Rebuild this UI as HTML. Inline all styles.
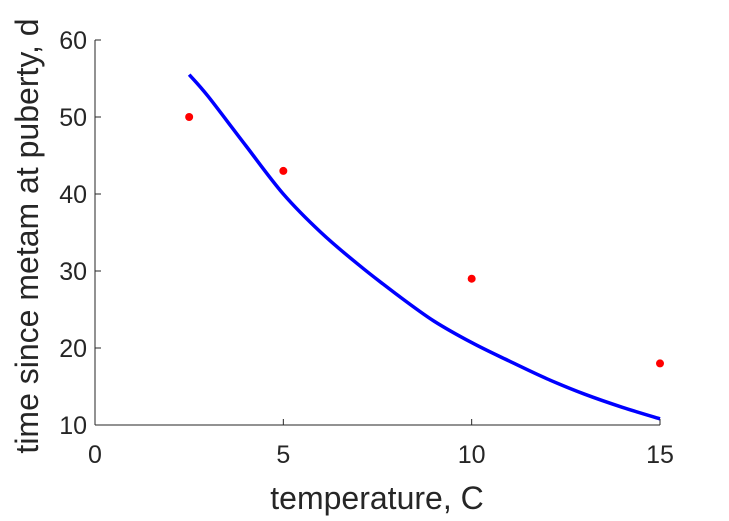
<!DOCTYPE html>
<html><head><meta charset="utf-8"><style>
html,body{margin:0;padding:0;background:#fff;width:729px;height:521px;overflow:hidden}
svg text{font-family:"Liberation Sans",sans-serif;fill:#262626}
</style></head><body>
<svg id="chart" width="729" height="521" xmlns="http://www.w3.org/2000/svg">
<g id="axes"></g>
<path id="curve" fill="none" stroke="#0000ff" stroke-width="3.5"/>
<g id="pts"></g>
<text x="377" y="509" font-size="32" text-anchor="middle">temperature, C</text>
<text transform="translate(38,236) rotate(-90)" font-size="32" text-anchor="middle">time since metam at puberty, d</text>
</svg>
<script>
const xTicks=[0,5,10,15];
const yTicks=[10,20,30,40,50,60];
const curveT=[2.5,3,4,5,6,7,8,9,10,11,12,13,14,15];
const curveY=[55.5,52.7,46.3,40.0,35.0,30.8,27.0,23.5,20.7,18.3,16.0,14.0,12.3,10.8];
const ptT=[2.5,5,10,15];
const ptY=[50,43,29,18];
const X0=95,X1=660,Y0=425,Y1=40;
const sx=v=>X0+(v-0)/(15-0)*(X1-X0);
const sy=v=>Y0-(v-10)/(60-10)*(Y0-Y1);
const NS="http://www.w3.org/2000/svg";
const ax=document.getElementById('axes');
function mk(t,a,p){const e=document.createElementNS(NS,t);for(const k in a)e.setAttribute(k,a[k]);(p||ax).appendChild(e);return e;}
let l=mk('line',{x1:X0,y1:Y0,x2:X1,y2:Y0,stroke:'#262626','stroke-width':1});


l=mk('line',{x1:X0,y1:Y0,x2:X0,y2:Y1,stroke:'#262626','stroke-width':1});


xTicks.forEach(v=>{
 const t=mk('line',{x1:sx(v),y1:Y0,x2:sx(v),y2:Y0-6,stroke:'#262626'});
 
 
 const tx=mk('text',{x:sx(v),y:Y0+38,'font-size':25,'text-anchor':'middle'});tx.textContent=v;
 
 
});
yTicks.forEach(v=>{
 const t=mk('line',{x1:X0,y1:sy(v),x2:X0+6,y2:sy(v),stroke:'#262626'});
 
 
 const tx=mk('text',{x:X0-8,y:sy(v)+9,'font-size':25,'text-anchor':'end'});tx.textContent=v;
 
 
});
const P=curveT.map((t,i)=>[sx(t),sy(curveY[i])]);
let d='M'+P[0][0].toFixed(1)+','+P[0][1].toFixed(1);
for(let i=0;i<P.length-1;i++){
 const p0=P[Math.max(0,i-1)],p1=P[i],p2=P[i+1],p3=P[Math.min(P.length-1,i+2)];
 const c1=[p1[0]+(p2[0]-p0[0])/6,p1[1]+(p2[1]-p0[1])/6];
 const c2=[p2[0]-(p3[0]-p1[0])/6,p2[1]-(p3[1]-p1[1])/6];
 d+='C'+c1.map(n=>n.toFixed(1)).join(',')+' '+c2.map(n=>n.toFixed(1)).join(',')+' '+p2.map(n=>n.toFixed(1)).join(',');
}
document.getElementById('curve').setAttribute('d',d);
const pg=document.getElementById('pts');
ptT.forEach((t,i)=>{
 const c=mk('circle',{cx:sx(t),cy:sy(ptY[i]),r:4,fill:'#ff0000'},pg);
 
 
});
</script>
</body></html>
